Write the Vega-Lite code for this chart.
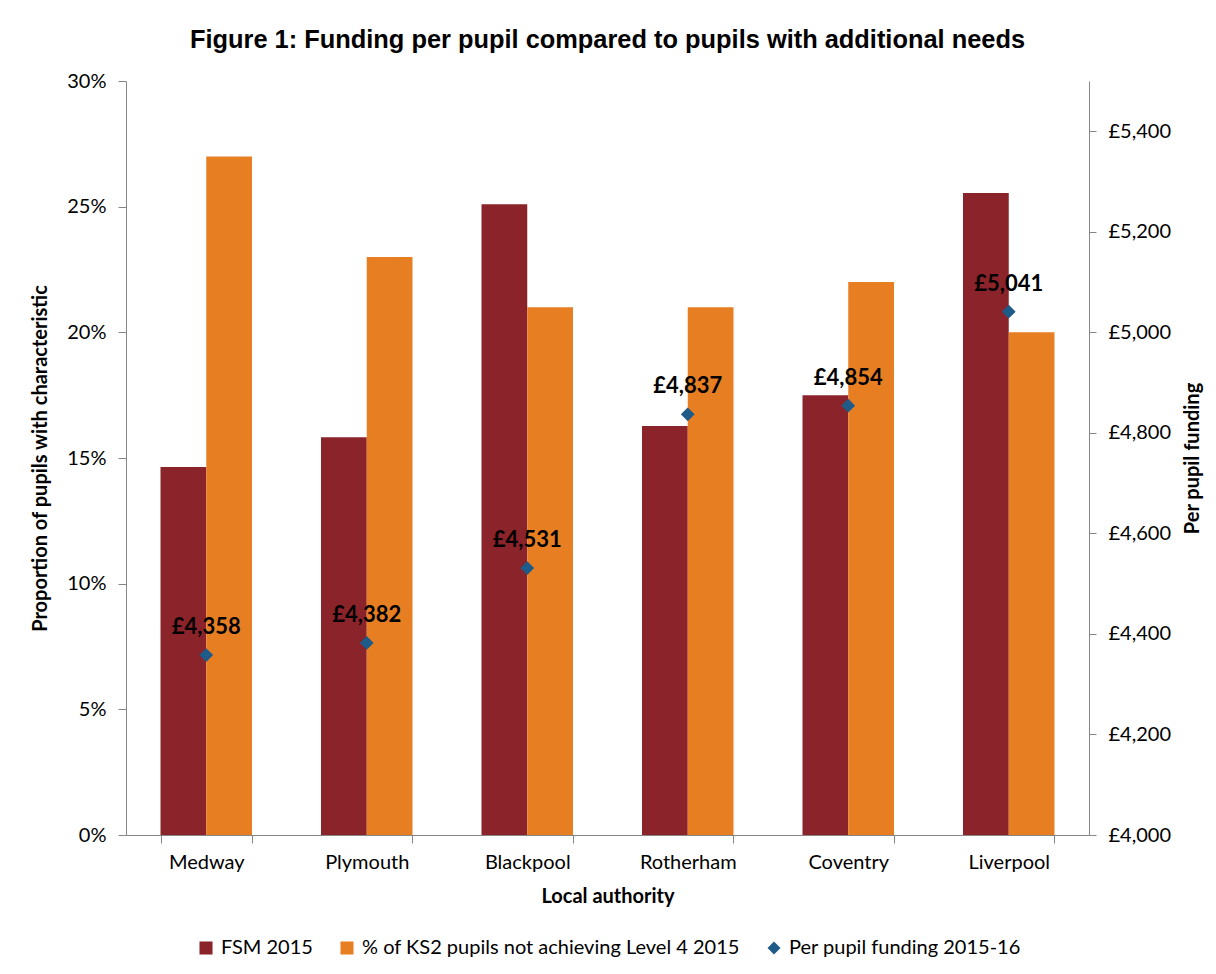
{
  "$schema": "https://vega.github.io/schema/vega-lite/v6.json",
  "width": 963,
  "height": 754,
  "autosize": "none",
  "padding": {"left": 126, "top": 81, "right": 127, "bottom": 139},
  "background": "white",
  "title": {
    "text": "Figure 1: Funding per pupil compared to pupils with additional needs",
    "font": "Liberation Sans",
    "fontSize": 25.4,
    "fontWeight": "bold",
    "color": "black",
    "frame": "group",
    "offset": 18
  },
  "datasets": {
    "bars": [
      {"authority": "Medway", "series": "FSM 2015", "value": 0.1464},
      {"authority": "Medway", "series": "% of KS2 pupils not achieving Level 4 2015", "value": 0.27},
      {"authority": "Plymouth", "series": "FSM 2015", "value": 0.1583},
      {"authority": "Plymouth", "series": "% of KS2 pupils not achieving Level 4 2015", "value": 0.23},
      {"authority": "Blackpool", "series": "FSM 2015", "value": 0.251},
      {"authority": "Blackpool", "series": "% of KS2 pupils not achieving Level 4 2015", "value": 0.21},
      {"authority": "Rotherham", "series": "FSM 2015", "value": 0.1627},
      {"authority": "Rotherham", "series": "% of KS2 pupils not achieving Level 4 2015", "value": 0.21},
      {"authority": "Coventry", "series": "FSM 2015", "value": 0.175},
      {"authority": "Coventry", "series": "% of KS2 pupils not achieving Level 4 2015", "value": 0.22},
      {"authority": "Liverpool", "series": "FSM 2015", "value": 0.2554},
      {"authority": "Liverpool", "series": "% of KS2 pupils not achieving Level 4 2015", "value": 0.20}
    ],
    "funding": [
      {"authority": "Medway", "series": "Per pupil funding 2015-16", "funding": 4358, "label": "£4,358"},
      {"authority": "Plymouth", "series": "Per pupil funding 2015-16", "funding": 4382, "label": "£4,382"},
      {"authority": "Blackpool", "series": "Per pupil funding 2015-16", "funding": 4531, "label": "£4,531"},
      {"authority": "Rotherham", "series": "Per pupil funding 2015-16", "funding": 4837, "label": "£4,837"},
      {"authority": "Coventry", "series": "Per pupil funding 2015-16", "funding": 4854, "label": "£4,854"},
      {"authority": "Liverpool", "series": "Per pupil funding 2015-16", "funding": 5041, "label": "£5,041"}
    ]
  },
  "encoding": {
    "x": {
      "field": "authority",
      "type": "nominal",
      "sort": ["Medway", "Plymouth", "Blackpool", "Rotherham", "Coventry", "Liverpool"],
      "scale": {"paddingInner": 0.43, "paddingOuter": 0.215},
      "title": "Local authority",
      "axis": {
        "labelAngle": 0,
        "tickBand": "extent",
        "tickSize": 8,
        "labelPadding": 9,
        "titlePadding": 14,
        "titleFontWeight": "bold"
      }
    }
  },
  "layer": [
    {
      "data": {"name": "bars"},
      "mark": {"type": "bar"},
      "encoding": {
        "xOffset": {
          "field": "series",
          "type": "nominal",
          "sort": ["FSM 2015", "% of KS2 pupils not achieving Level 4 2015"],
          "scale": {"paddingInner": 0, "paddingOuter": 0}
        },
        "y": {
          "field": "value",
          "type": "quantitative",
          "scale": {"domain": [0, 0.3], "nice": false},
          "title": "Proportion of pupils with  characteristic",
          "axis": {
            "format": "0%",
            "values": [0, 0.05, 0.1, 0.15, 0.2, 0.25, 0.3],
            "tickSize": 8,
            "labelPadding": 12,
            "titlePadding": 16,
            "titleFontWeight": "bold"
          }
        },
        "color": {
          "field": "series",
          "type": "nominal",
          "scale": {
            "domain": ["FSM 2015", "% of KS2 pupils not achieving Level 4 2015", "Per pupil funding 2015-16"],
            "range": ["#8B232A", "#E87E22", "#1F5B88"]
          },
          "legend": {
            "title": null,
            "orient": "none",
            "direction": "horizontal",
            "legendX": 70,
            "legendY": 857,
            "columnPadding": 24,
            "symbolSize": 170,
            "labelOffset": 5
          }
        }
      }
    },
    {
      "data": {"name": "funding"},
      "mark": {"type": "point", "filled": true, "opacity": 1, "size": 190},
      "encoding": {
        "y": {
          "field": "funding",
          "type": "quantitative",
          "scale": {"domain": [4000, 5500], "nice": false, "zero": false},
          "title": "Per pupil funding",
          "axis": {
            "orient": "right",
            "values": [4000, 4200, 4400, 4600, 4800, 5000, 5200, 5400],
            "labelExpr": "'£' + format(datum.value, ',')",
            "tickSize": 7,
            "labelPadding": 12,
            "titlePadding": 32,
            "titleAngle": 270,
            "titleFontWeight": "bold"
          }
        },
        "color": {"field": "series", "type": "nominal"},
        "shape": {
          "field": "series",
          "type": "nominal",
          "scale": {
            "domain": ["FSM 2015", "% of KS2 pupils not achieving Level 4 2015", "Per pupil funding 2015-16"],
            "range": ["square", "square", "diamond"]
          },
          "legend": {
            "title": null,
            "orient": "none",
            "direction": "horizontal",
            "legendX": 70,
            "legendY": 857,
            "columnPadding": 24,
            "symbolSize": 170,
            "labelOffset": 5
          }
        }
      }
    },
    {
      "data": {"name": "funding"},
      "mark": {"type": "text", "font": "Lato", "fontSize": 22, "fontWeight": "bold", "color": "black", "dy": -28},
      "encoding": {
        "y": {"field": "funding", "type": "quantitative", "scale": {"domain": [4000, 5500], "nice": false, "zero": false}, "axis": null},
        "text": {"field": "label", "type": "nominal"}
      }
    }
  ],
  "resolve": {"scale": {"y": "independent"}},
  "config": {
    "view": {"stroke": null},
    "font": "Lato",
    "axis": {
      "grid": false,
      "domainColor": "#868686",
      "tickColor": "#868686",
      "labelColor": "black",
      "titleColor": "black",
      "labelFont": "Lato",
      "titleFont": "Lato",
      "labelFontSize": 20,
      "titleFontSize": 20
    },
    "legend": {
      "labelFont": "Lato",
      "labelFontSize": 20,
      "labelColor": "black",
      "labelLimit": 600
    }
  }
}
